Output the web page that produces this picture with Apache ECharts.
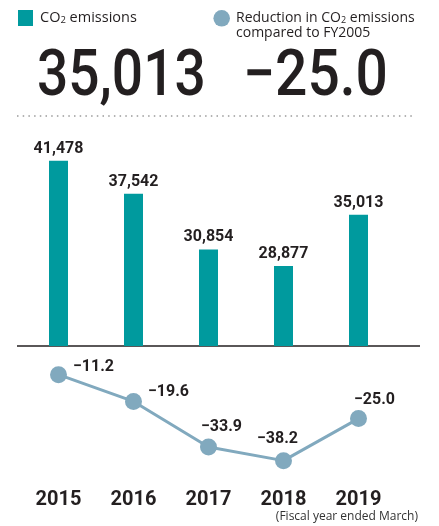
<!DOCTYPE html>
<html><head><meta charset="utf-8">
<script src="https://cdn.jsdelivr.net/npm/echarts@6/dist/echarts.min.js"></script>
<style>html,body{margin:0;padding:0;background:#fff}#chart{width:439px;height:526px}</style>
</head><body><div id="chart"></div>
<script>
// Fiscal years (ended March)
const years = ['2015', '2016', '2017', '2018', '2019'];
// CO2 emissions (t-CO2)
const emissions = [41478, 37542, 30854, 28877, 35013];
// Reduction compared to FY2005 (%)
const reduction = [-11.2, -19.6, -33.9, -38.2, -25.0];
// Headline figures for the latest year
const latestEmissions = '35,013';
const latestReduction = '\u221225.0';

// Label placement around each line marker (dx, dy from marker centre)
const lineLabelOffsets = [[35, -8], [35, -9], [13, -20], [-6, -22], [16, -19]];

const TEAL = '#009a9e';
const STEEL = '#81a9be';
const INK = '#231f20';
const NUM_FONT = 'Roboto';

const fmtPct = v => (v < 0 ? '\u2212' : '') + Math.abs(v).toFixed(1);

const chart = echarts.init(document.getElementById('chart'), null, { renderer: 'canvas' });

chart.setOption({
  animation: false,
  backgroundColor: '#fff',
  grid: [
    { left: 21, width: 375, top: 156.4, height: 189.6 },
    { left: 21, width: 375, top: 339, height: 143.3 }
  ],
  xAxis: [
    { type: 'category', data: years, gridIndex: 0, axisLine: { show: false }, axisTick: { show: false }, axisLabel: { show: false } },
    { type: 'category', data: years, gridIndex: 1, axisLine: { show: false }, axisTick: { show: false },
      axisLabel: { margin: 8, color: INK, fontFamily: NUM_FONT, fontWeight: 'bold', fontSize: 20 } }
  ],
  yAxis: [
    { type: 'value', gridIndex: 0, min: 19300, max: 42000, show: false, splitLine: { show: false } },
    { type: 'value', gridIndex: 1, min: -45, max: 0, show: false, splitLine: { show: false } }
  ],
  series: [
    {
      type: 'bar', xAxisIndex: 0, yAxisIndex: 0, data: emissions, barWidth: 19,
      itemStyle: { color: TEAL },
      label: {
        show: true, position: 'top', distance: 4, color: INK,
        fontFamily: NUM_FONT, fontWeight: 'bold', fontSize: 16,
        formatter: p => p.value.toLocaleString('en-US')
      }
    },
    {
      type: 'line', xAxisIndex: 1, yAxisIndex: 1, z: 3,
      data: reduction.map((v, i) => ({
        value: v,
        label: { offset: lineLabelOffsets[i] }
      })),
      symbol: 'circle', symbolSize: 17,
      lineStyle: { color: STEEL, width: 3 },
      itemStyle: { color: STEEL },
      label: {
        show: true, position: 'inside', color: INK,
        fontFamily: NUM_FONT, fontWeight: 'bold', fontSize: 16,
        formatter: p => fmtPct(p.value)
      }
    }
  ],
  graphic: [
    // legend: emissions
    { type: 'rect', shape: { x: 18, y: 10, width: 15, height: 16 }, style: { fill: TEAL } },
    { type: 'text', x: 40, y: 18, style: {
        text: '{a|CO}{s|2}{a| emissions}', verticalAlign: 'middle',
        rich: {
          a: { fontFamily: 'Open Sans', fontSize: 14.5, fill: INK },
          s: { fontFamily: 'Open Sans', fontSize: 9.5, fill: INK, padding: [5, 0, 0, 0] }
        } } },
    // legend: reduction
    { type: 'circle', shape: { cx: 221.7, cy: 18.3, r: 8.3 }, style: { fill: STEEL } },
    { type: 'text', x: 236, y: 18, style: {
        text: '{a|Reduction in CO}{s|2}{a| emissions}', verticalAlign: 'middle',
        rich: {
          a: { fontFamily: 'Open Sans', fontSize: 14, fill: INK },
          s: { fontFamily: 'Open Sans', fontSize: 9, fill: INK, padding: [5, 0, 0, 0] }
        } } },
    { type: 'text', x: 236, y: 33.5, style: {
        text: 'compared to FY2005', verticalAlign: 'middle',
        fontFamily: 'Open Sans', fontSize: 14, fill: INK } },
    // headline figures
    { type: 'text', x: 37, y: 78.5, scaleX: 0.86, style: {
        text: latestEmissions, verticalAlign: 'middle',
        fontFamily: NUM_FONT, fontWeight: 500, fontSize: 64, fill: INK } },
    { type: 'text', x: 243, y: 78.5, scaleX: 0.89, style: {
        text: latestReduction, verticalAlign: 'middle',
        fontFamily: NUM_FONT, fontWeight: 500, fontSize: 64, fill: INK } },
    // dotted separator
    { type: 'line', shape: { x1: 17, y1: 116, x2: 415, y2: 116 },
      style: { stroke: '#9a9a9a', lineWidth: 1.5, lineDash: [1.5, 4.2] } },
    // bar baseline
    { type: 'line', shape: { x1: 17, y1: 346, x2: 420, y2: 346 },
      style: { stroke: INK, lineWidth: 1.5 } },
    // footnote
    { type: 'text', x: 418, y: 517, style: {
        text: '(Fiscal year ended March)', align: 'right', verticalAlign: 'middle',
        fontFamily: 'Open Sans', fontSize: 12, fill: '#333' } }
  ]
});
</script>
</body></html>
